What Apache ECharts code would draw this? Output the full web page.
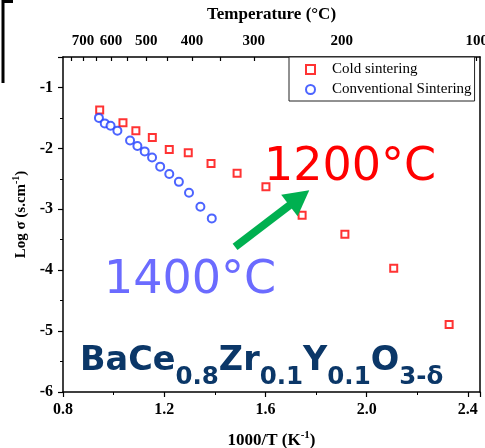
<!DOCTYPE html>
<html>
<head>
<meta charset="utf-8">
<script src="https://cdn.jsdelivr.net/npm/echarts@6/dist/echarts.min.js"></script>
<style>
  html, body { margin: 0; padding: 0; background: #fff; }
  #chart { width: 485px; height: 448px; }
</style>
</head>
<body>
<div id="chart"></div>
<script>
// cold sintering (squares)
const coldX = [0.945, 1.037, 1.088, 1.153, 1.220, 1.295, 1.385, 1.488, 1.602, 1.745, 1.914, 2.107, 2.326]
const coldY = [-1.37, -1.58, -1.71, -1.82, -2.02, -2.07, -2.25, -2.41, -2.63, -3.10, -3.41, -3.97, -4.89]
// conventional sintering (circles)
const convX = [0.942, 0.965, 0.988, 1.015, 1.065, 1.094, 1.123, 1.152, 1.184, 1.220, 1.258, 1.298, 1.343, 1.388]
const convY = [-1.50, -1.59, -1.63, -1.71, -1.87, -1.96, -2.05, -2.15, -2.30, -2.42, -2.55, -2.73, -2.96, -3.15]
// top axis, temperature in °C
const tempLabels = [700, 600, 500, 400, 300, 200, 100]
const tempTicks = [750, 700, 650, 600, 550, 500, 450, 400, 350, 300, 250, 200, 150, 100]
// arrow, in data coords (tail -> head centre)
const arrowFrom = [1.480, -3.618]
const arrowTo = [1.734, -2.813]

const toInvT = t => 1000 / (t + 273)
const serif = 'Liberation Serif'

const chart = echarts.init(document.getElementById('chart'))

const axisBase = {
  axisLine: {show: true, lineStyle: {color: '#000', width: 1.5}},
  splitLine: {show: false},
}

const option = {
  animation: false,
  backgroundColor: '#fff',
  grid: {left: 63, right: 5, top: 57, bottom: 56, containLabel: false, outerBoundsMode: 'none'},
  legend: {
    left: 289,
    top: 57,
    orient: 'vertical',
    padding: [5, 3, 4, 16],
    itemGap: 5,
    itemWidth: 9,
    itemHeight: 9,
    borderColor: '#222',
    borderWidth: 1,
    backgroundColor: '#fff',
    textStyle: {fontFamily: serif, fontSize: 15, color: '#000', padding: [0, 0, 0, 12]},
    data: ['Cold sintering', 'Conventional Sintering']
  },
  xAxis: [
    {
      ...axisBase,
      type: 'value',
      position: 'bottom',
      min: 0.8,
      max: 2.448,
      interval: 0.4,
      axisTick: {show: true, inside: false, length: 5, lineStyle: {color: '#000', width: 1.2}},
      minorTick: {show: true, splitNumber: 2, length: 3, lineStyle: {color: '#000', width: 1}},
      axisLabel: {
        margin: 10, showMaxLabel: false,
        fontFamily: serif, fontWeight: 'bold', fontSize: 16, color: '#000',
        formatter: v => v.toFixed(1)
      },
      name: '{n|1000/T (K}{sup|-1}{n|)}',
      nameLocation: 'middle',
      nameGap: 38,
      nameTextStyle: {
        rich: {
          n: {fontFamily: serif, fontWeight: 'bold', fontSize: 17, color: '#000'},
          sup: {fontFamily: serif, fontWeight: 'bold', fontSize: 11, color: '#000', padding: [0, 0, 11, 0]}
        }
      }
    },
    {
      ...axisBase,
      type: 'value',
      position: 'top',
      min: 0.9437,
      max: 2.6951,
      axisTick: {
        show: true, inside: true, length: 4,
        customValues: tempTicks.map(toInvT),
        lineStyle: {color: '#000', width: 1.2}
      },
      axisLabel: {
        margin: 8,
        customValues: tempLabels.map(toInvT),
        fontFamily: serif, fontWeight: 'bold', fontSize: 15, color: '#000',
        formatter: v => String(Math.round(1000 / v - 273))
      },
      name: 'Temperature (°C)',
      nameLocation: 'middle',
      nameGap: 34,
      nameTextStyle: {fontFamily: serif, fontWeight: 'bold', fontSize: 17, color: '#000'}
    }
  ],
  yAxis: [
    {
      ...axisBase,
      type: 'value',
      position: 'left',
      min: -6,
      max: -0.5,
      interval: 1,
      axisTick: {show: true, inside: false, length: 5, lineStyle: {color: '#000', width: 1.2}},
      minorTick: {show: true, splitNumber: 2, length: 3, lineStyle: {color: '#000', width: 1}},
      axisLabel: {
        margin: 10, showMaxLabel: false,
        fontFamily: serif, fontWeight: 'bold', fontSize: 16, color: '#000',
        formatter: v => String(v)
      },
      name: '{n|Log σ (s.cm}{sup|-1}{n|)}',
      nameLocation: 'middle',
      nameRotate: 90,
      nameGap: 30,
      nameTextStyle: {
        padding: [0, 0, 0, 20],
        rich: {
          n: {fontFamily: serif, fontWeight: 'bold', fontSize: 15, color: '#000'},
          sup: {fontFamily: serif, fontWeight: 'bold', fontSize: 10, color: '#000', padding: [0, 0, 10, 0]}
        }
      }
    },
    {
      ...axisBase,
      type: 'value',
      position: 'right',
      min: -6,
      max: -0.5,
      axisTick: {show: false},
      axisLabel: {show: false}
    }
  ],
  series: [
    {
      name: 'Cold sintering',
      type: 'scatter',
      symbol: 'rect',
      symbolSize: 7,
      itemStyle: {color: '#fff', borderColor: '#ff0000', borderWidth: 2},
      data: coldX.map((x, i) => [x, coldY[i]]),
      markLine: {
        silent: true,
        symbol: ['none', 'triangle'],
        symbolSize: [27, 25],
        label: {show: false},
        lineStyle: {color: '#00b050', width: 8, type: 'solid'},
        itemStyle: {color: '#00b050'},
        data: [[{coord: arrowFrom}, {coord: arrowTo}]]
      }
    },
    {
      name: 'Conventional Sintering',
      type: 'scatter',
      symbol: 'circle',
      symbolSize: 8,
      itemStyle: {color: '#fff', borderColor: '#1f3dff', borderWidth: 2},
      data: convX.map((x, i) => [x, convY[i]])
    }
  ],
  graphic: [
    // crop leftover in the top-left corner
    {type: 'polyline', shape: {points: [[3, 83], [3, 1.5], [13, 1.5]]}, style: {stroke: '#000', lineWidth: 3, fill: null}},
    {
      type: 'text', left: 264, top: 145, z: 10,
      style: {text: '1200°C', fontFamily: 'DejaVu Sans', fontSize: 46, fill: '#ff0000'}
    },
    {
      type: 'text', left: 104, top: 258, z: 10,
      style: {text: '1400°C', fontFamily: 'DejaVu Sans', fontSize: 46, fill: '#6b6bff'}
    },
    {
      type: 'text', left: 80, top: 333, z: 10,
      style: {
        text: '{m|BaCe}{s|0.8}{m|Zr}{s|0.1}{m|Y}{s|0.1}{m|O}{s|3-δ}',
        rich: {
          m: {fontFamily: 'DejaVu Sans', fontWeight: 'bold', fontSize: 33.5, lineHeight: 40, fill: '#0b3768'},
          s: {fontFamily: 'DejaVu Sans', fontWeight: 'bold', fontSize: 24.5, lineHeight: 40, fill: '#0b3768', padding: [32, 0, 0, 0]}
        }
      }
    }
  ]
}

chart.setOption(option)
</script>
</body>
</html>
